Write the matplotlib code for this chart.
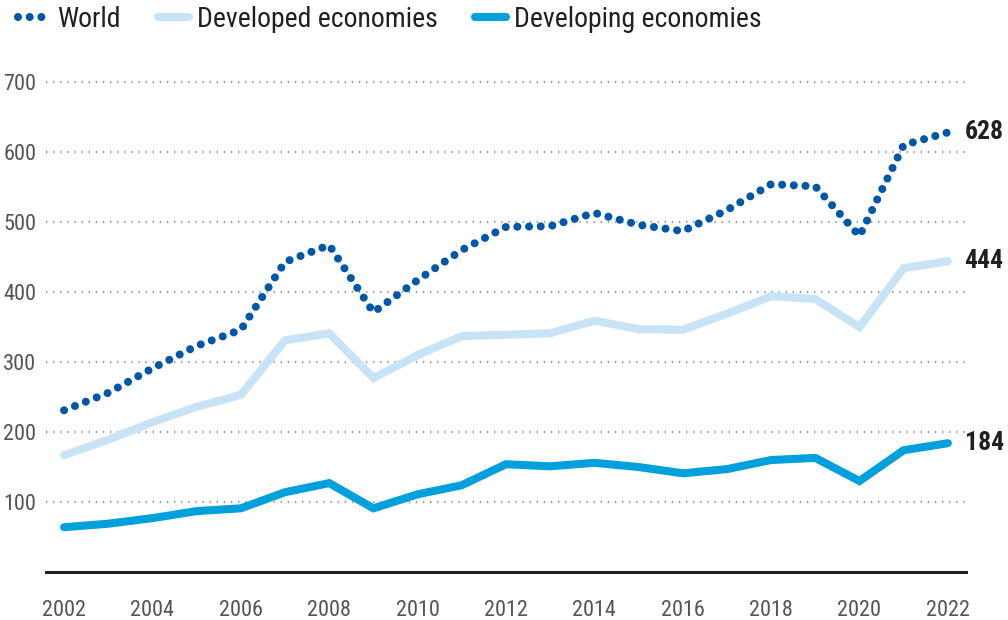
import matplotlib
matplotlib.use("Agg")
import matplotlib.pyplot as plt
from matplotlib.lines import Line2D

plt.rcParams['font.family'] = ['Roboto Condensed', 'Archivo Narrow', 'DejaVu Sans']

# --- Data ---
years = list(range(2002, 2023))
world = [231, 256, 291, 323, 346, 443, 467, 371, 417, 460, 493,
         494, 513, 496, 487, 517, 554, 551, 480, 610, 628]
developed = [167, 189, 214, 236, 253, 331, 341, 277, 310, 337, 339,
             341, 359, 347, 346, 369, 394, 390, 350, 434, 444]
developing = [64, 69, 77, 87, 91, 114, 127, 91, 111, 124, 154,
              151, 156, 150, 141, 147, 160, 163, 130, 174, 184]
y_ticks = [100, 200, 300, 400, 500, 600, 700]
x_ticks = list(range(2002, 2023, 2))

C_WORLD = '#0057a8'
C_DEVD = '#c8e3f5'
C_DEVG = '#00a0dc'

fig = plt.figure(figsize=(10.08, 6.2), dpi=100)
ax = fig.add_axes([0.0456, 0.0774, 0.9127, 0.8016])

ax.plot(years, developed, color=C_DEVD, lw=5.8, solid_joinstyle='miter',
        solid_capstyle='round', zorder=3)
ax.plot(years, developing, color=C_DEVG, lw=5.8, solid_joinstyle='miter',
        solid_capstyle='round', zorder=3)
ax.plot(years, world, color=C_WORLD, lw=5.8, linestyle=(0, (0.001, 1.45)),
        dash_capstyle='round', zorder=4)

# end-of-series value labels
for series in (world, developed, developing):
    ax.annotate(f'{series[-1]}', xy=(years[-1], series[-1]), xytext=(12, 0),
                textcoords='offset points', va='center', ha='left',
                fontsize=18.5, fontweight='bold', color='#231f20')

ax.set_xlim(2001.59, 2022.41)
ax.set_ylim(0, 710)
ax.set_yticks(y_ticks)
ax.set_xticks(x_ticks)
ax.set_yticklabels([str(v) for v in y_ticks])
ax.tick_params(axis='y', length=0, pad=7, labelsize=16, labelcolor='#555555')
ax.tick_params(axis='x', length=0, pad=20, labelsize=16, labelcolor='#555555')

for v in y_ticks:
    ax.axhline(v, color='#9a9a9a', lw=1.6, linestyle=(0, (0.6, 2.6)),
               zorder=1)

for s in ('top', 'right', 'left'):
    ax.spines[s].set_visible(False)
ax.spines['bottom'].set_color('#222222')
ax.spines['bottom'].set_linewidth(2.2)
ax.set_facecolor('none')

handles = [
    Line2D([], [], color=C_WORLD, lw=5.8, linestyle=(0, (0.001, 1.45)),
           dash_capstyle='round'),
    Line2D([], [], color=C_DEVD, lw=5.8, solid_capstyle='round'),
    Line2D([], [], color=C_DEVG, lw=5.8, solid_capstyle='round'),
]
fig.legend(handles, ['World', 'Developed economies', 'Developing economies'],
           loc='upper left', bbox_to_anchor=(0.018, 0.99), ncol=3, frameon=False,
           fontsize=20, handlelength=1.1, handletextpad=0.3,
           columnspacing=1.35, borderpad=0, borderaxespad=0,
           labelcolor='#231f20')

fig.savefig('out.png', dpi=100)
